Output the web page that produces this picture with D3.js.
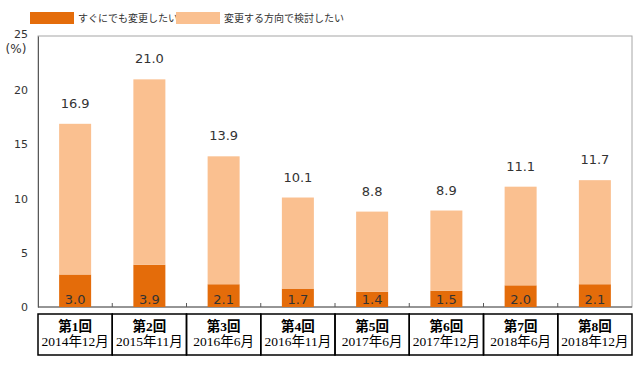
<!DOCTYPE html>
<html>
<head>
<meta charset="utf-8">
<script src="https://cdn.jsdelivr.net/npm/d3@7"></script>
<style>
  body { margin: 0; background: #fff; }
  svg { display: block; }
</style>
</head>
<body>
<div id="chart"></div>
<script>
// データ
var rounds = ["第1回", "第2回", "第3回", "第4回", "第5回", "第6回", "第7回", "第8回"];
var periods = ["2014年12月", "2015年11月", "2016年6月", "2016年11月", "2017年6月", "2017年12月", "2018年6月", "2018年12月"];
var immediate = [3.0, 3.9, 2.1, 1.7, 1.4, 1.5, 2.0, 2.1];
var total = [16.9, 21.0, 13.9, 10.1, 8.8, 8.9, 11.1, 11.7];
var seriesNames = ["すぐにでも変更したい", "変更する方向で検討したい"];
var yTicks = [0, 5, 10, 15, 20, 25];

var colors = ["#E46C0A", "#FAC090"];
var W = 639, H = 368;
var margin = {top: 36, right: 7, bottom: 61, left: 38};
var width = W - margin.left - margin.right,
    height = H - margin.top - margin.bottom;

var svg = d3.select("#chart").append("svg")
  .attr("width", W).attr("height", H);

// 凡例
var legend = svg.append("g");
seriesNames.forEach(function(name, i) {
  var lx = 30 + i * 146;
  legend.append("rect")
    .attr("x", lx).attr("y", 12).attr("width", 44).attr("height", 12)
    .attr("fill", colors[i]);
  legend.append("text")
    .attr("x", lx + 48).attr("y", 22)
    .style("font-family", "'Noto Sans CJK JP', sans-serif")
    .style("font-size", "10px").attr("fill", "#333")
    .text(name);
});

var g = svg.append("g")
  .attr("transform", "translate(" + margin.left + "," + margin.top + ")");

var x = d3.scaleBand().domain(rounds).range([0, width]).paddingInner(0).paddingOuter(0);
var y = d3.scaleLinear().domain([0, 25]).range([height, 0]);
var barW = 32;

// 枠
g.append("rect")
  .attr("x", 0).attr("y", 0).attr("width", width).attr("height", height)
  .attr("fill", "none").attr("stroke", "#a6a6a6").attr("stroke-width", 1);

// 縦軸
var yAxis = g.append("g")
  .call(d3.axisLeft(y).tickValues(yTicks).tickSize(0).tickPadding(10));
yAxis.select(".domain").attr("stroke", "#595959");
yAxis.selectAll("text")
  .style("font-family", "'DejaVu Sans', sans-serif")
  .style("font-size", "11px").attr("fill", "#333");
yAxis.selectAll(".tick").filter(function(d) { return d === 25; }).select("text")
  .attr("dy", "0.15em");
svg.append("text")
  .attr("x", 16).attr("y", 53).attr("text-anchor", "middle")
  .style("font-family", "'DejaVu Sans', sans-serif")
  .style("font-size", "12px").attr("fill", "#333")
  .text("(%)");

// 横軸（目盛のみ）
var xAxisLine = g.append("g").attr("transform", "translate(0," + height + ")");
xAxisLine.append("line")
  .attr("x1", 0).attr("x2", width).attr("stroke", "#595959");
xAxisLine.selectAll("line.tk")
  .data(rounds.slice(1))
  .enter().append("line")
  .attr("class", "tk")
  .attr("x1", function(d) { return x(d); })
  .attr("x2", function(d) { return x(d); })
  .attr("y1", 0).attr("y2", -4)
  .attr("stroke", "#595959");

// 棒
var cx = function(i) { return x(rounds[i]) + x.bandwidth() / 2; };
g.selectAll("rect.lower")
  .data(immediate).enter().append("rect")
  .attr("class", "lower")
  .attr("x", function(d, i) { return cx(i) - barW / 2; })
  .attr("width", barW)
  .attr("y", function(d) { return y(d); })
  .attr("height", function(d) { return height - y(d); })
  .attr("fill", colors[0]);
g.selectAll("rect.upper")
  .data(total).enter().append("rect")
  .attr("class", "upper")
  .attr("x", function(d, i) { return cx(i) - barW / 2; })
  .attr("width", barW)
  .attr("y", function(d) { return y(d); })
  .attr("height", function(d, i) { return y(immediate[i]) - y(d); })
  .attr("fill", colors[1]);

// ラベル
g.selectAll("text.tot")
  .data(total).enter().append("text")
  .attr("class", "tot")
  .attr("x", function(d, i) { return cx(i); })
  .attr("y", function(d) { return y(d) - 16; })
  .attr("text-anchor", "middle")
  .style("font-family", "'DejaVu Sans', sans-serif")
  .style("font-size", "13px").attr("fill", "#333")
  .text(function(d) { return d.toFixed(1); });
g.selectAll("text.imm")
  .data(immediate).enter().append("text")
  .attr("class", "imm")
  .attr("x", function(d, i) { return cx(i); })
  .attr("y", height - 3)
  .attr("text-anchor", "middle")
  .style("font-family", "'DejaVu Sans', sans-serif")
  .style("font-size", "13px").attr("fill", "#333")
  .text(function(d) { return d.toFixed(1); });

// 表
var tbl = svg.append("g").attr("transform", "translate(" + margin.left + ",314)");
var rowH = 41;
tbl.selectAll("rect.cell")
  .data(rounds).enter().append("rect")
  .attr("class", "cell")
  .attr("x", function(d) { return x(d); })
  .attr("y", 0)
  .attr("width", x.bandwidth())
  .attr("height", rowH)
  .attr("fill", "none").attr("stroke", "#000").attr("stroke-width", 1.5);
var cellText = tbl.selectAll("text.cell")
  .data(rounds).enter().append("text")
  .attr("class", "cell")
  .attr("text-anchor", "middle")
  .style("font-family", "'Liberation Serif', 'Noto Sans CJK JP', serif")
  .style("font-size", "13.5px").attr("fill", "#000");
cellText.append("tspan")
  .attr("x", function(d) { return x(d) + x.bandwidth() / 2; })
  .attr("y", 17)
  .style("font-weight", "bold")
  .text(function(d) { return d; });
cellText.append("tspan")
  .attr("x", function(d) { return x(d) + x.bandwidth() / 2; })
  .attr("y", 32)
  .text(function(d, i) { return periods[i]; });
</script>
</body>
</html>
